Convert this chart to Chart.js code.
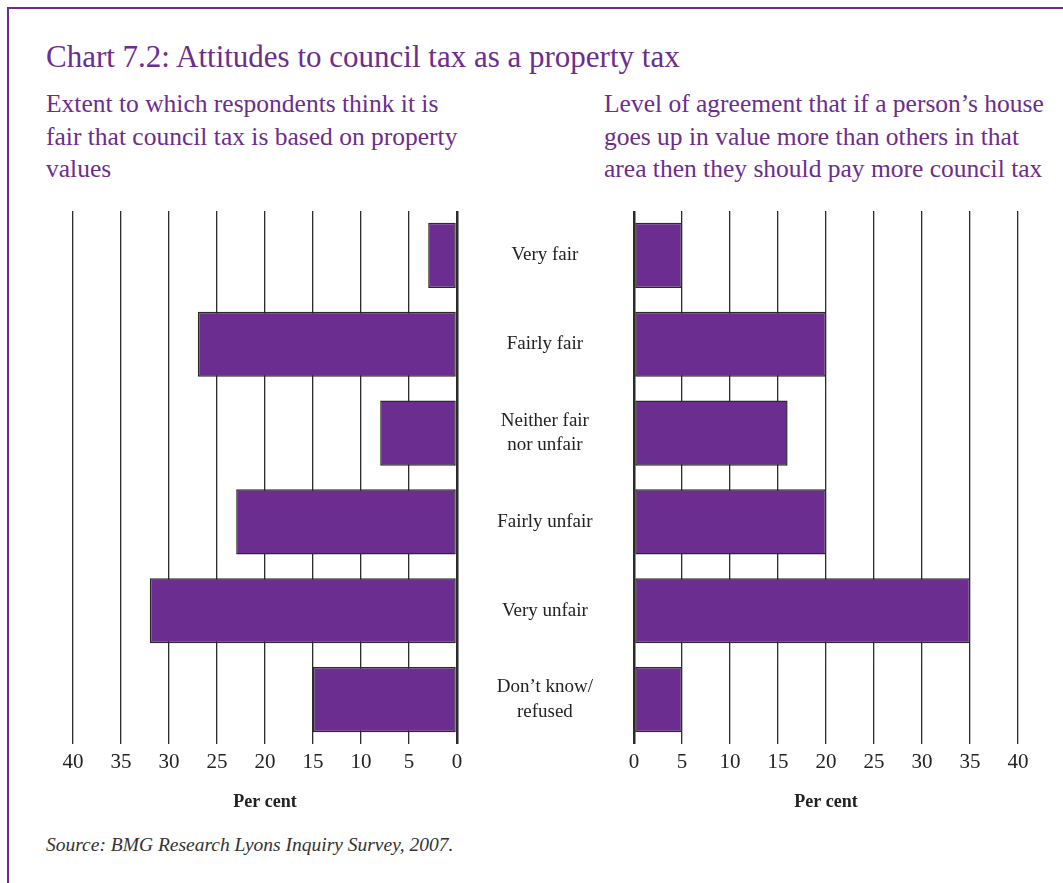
<!DOCTYPE html>
<html>
<head>
<meta charset="utf-8">
<script src="https://cdn.jsdelivr.net/npm/chart.js@4/dist/chart.umd.min.js"></script>
<style>
  body { margin: 0; width: 1063px; height: 883px; background: #fff; position: relative; overflow: hidden;
         font-family: 'Liberation Serif', 'DejaVu Serif', serif; }
  .frame { position: absolute; left: 7px; top: 7px; width: 1100px; height: 950px;
           border-left: 2.5px solid #6b2d8f; border-top: 2.5px solid #6b2d8f; }
  .title { position: absolute; left: 46px; top: 41px; font-size: 31px; line-height: 32px; color: #6b2d8f; white-space: nowrap; }
  .sub { position: absolute; top: 88px; font-size: 25.5px; line-height: 32.5px; color: #6b2d8f; white-space: nowrap; }
  .source { position: absolute; left: 46px; top: 834px; font-size: 19.5px; line-height: 22px; font-style: italic; color: #333; }
  canvas { position: absolute; }
</style>
</head>
<body>
<div class="frame"></div>
<div class="title">Chart 7.2: Attitudes to council tax as a property tax</div>
<div class="sub" style="left:46px">Extent to which respondents think it is<br>fair that council tax is based on property<br>values</div>
<div class="sub" style="left:604px">Level of agreement that if a person’s house<br>goes up in value more than others in that<br>area then they should pay more council tax</div>
<div class="source">Source: BMG Research Lyons Inquiry Survey, 2007.</div>

<div style="position:absolute;left:0;top:200px;width:480px;height:620px"><canvas id="leftChart"></canvas></div>
<div style="position:absolute;left:457px;top:200px;width:600px;height:620px"><canvas id="rightChart"></canvas></div>

<script>
// categorieen en waarden (procenten)
var categories = [
  ['Very fair'],
  ['Fairly fair'],
  ['Neither fair', 'nor unfair'],
  ['Fairly unfair'],
  ['Very unfair'],
  ['Don’t know/', 'refused']
];
var fairValues = [3, 27, 8, 23, 32, 15];       // linker grafiek
var agreeValues = [5, 20, 16, 20, 35, 5];      // rechter grafiek
var axisMin = 0, axisMax = 40, axisStep = 5;

var purple = '#6b2d8f';
var ink = '#222';
var serif = "'Liberation Serif', 'DejaVu Serif', serif";

function xScale(reverse) {
  return {
    type: 'linear',
    min: axisMin,
    max: axisMax,
    reverse: reverse,
    position: 'bottom',
    border: { display: false },
    grid: {
      drawTicks: false,
      color: '#2b2b2b',
      lineWidth: function (c) { return c.tick && c.tick.value === 0 ? 2.5 : 1.3; }
    },
    ticks: {
      stepSize: axisStep,
      padding: 6,
      maxRotation: 0,
      autoSkip: false,
      color: ink,
      font: { family: serif, size: 21 }
    },
    title: {
      display: true,
      text: 'Per cent',
      color: ink,
      font: { family: serif, size: 18, weight: 'bold' },
      padding: { top: 0, bottom: 7 }
    },
    afterFit: function (s) { s.height = 76; }
  };
}

function barSet(values) {
  return {
    data: values,
    backgroundColor: purple,
    borderColor: '#2a2a2a',
    borderWidth: 1.5,
    borderSkipped: false,
    categoryPercentage: 1,
    barPercentage: 0.733
  };
}

// Links: omgekeerde x-as, geen labels
new Chart(document.getElementById('leftChart'), {
  type: 'bar',
  data: { labels: categories, datasets: [barSet(fairValues)] },
  options: {
    indexAxis: 'y',
    responsive: true,
    maintainAspectRatio: false,
    animation: false,
    layout: { padding: { left: 73, right: 23, top: 11, bottom: 0 } },
    plugins: { legend: { display: false }, tooltip: { enabled: false } },
    scales: {
      x: xScale(true),
      y: { display: false }
    }
  }
});

// Rechts: categorielabels in het midden
new Chart(document.getElementById('rightChart'), {
  type: 'bar',
  data: { labels: categories, datasets: [barSet(agreeValues)] },
  options: {
    indexAxis: 'y',
    responsive: true,
    maintainAspectRatio: false,
    animation: false,
    layout: { padding: { left: 0, right: 39, top: 11, bottom: 0 } },
    plugins: { legend: { display: false }, tooltip: { enabled: false } },
    scales: {
      x: xScale(false),
      y: {
        position: 'left',
        border: { display: false },
        grid: { display: false, drawTicks: false },
        ticks: {
          crossAlign: 'center',
          padding: 41,
          color: ink,
          font: { family: serif, size: 19, lineHeight: 1.3 }
        },
        afterFit: function (s) {
          s.width = 177;
          // tick padding mag de grafiek niet omlaag duwen
          s.paddingTop = 0;
          s.paddingBottom = 0;
        }
      }
    }
  }
});
</script>
</body>
</html>
